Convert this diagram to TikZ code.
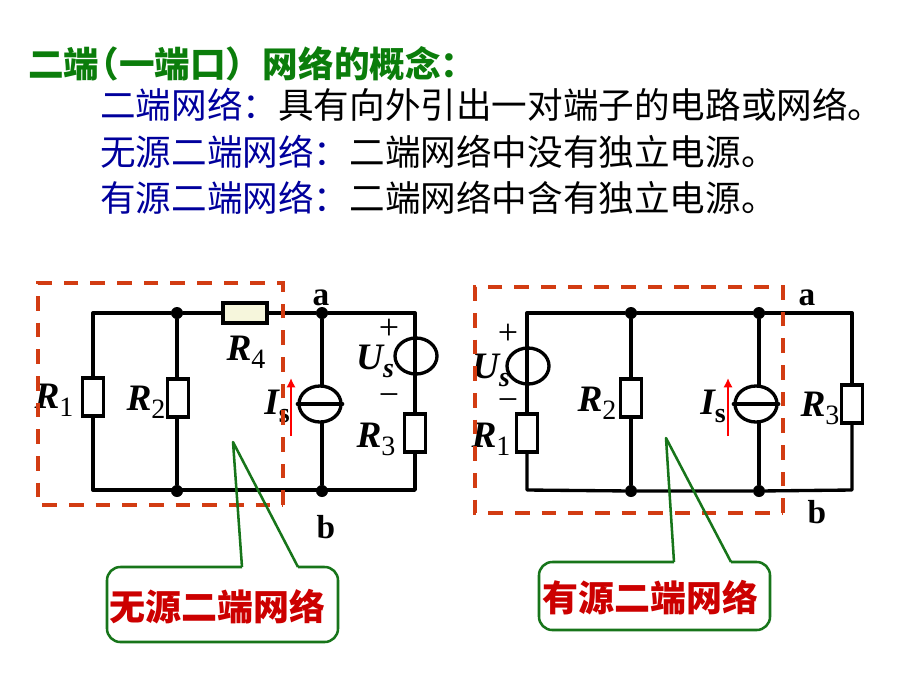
\documentclass[tikz,border=0pt]{standalone}
\usepackage{fontspec}
\setmainfont{Liberation Serif}
\newfontfamily\cjk{Noto Sans CJK SC}
\usetikzlibrary{shapes.geometric,arrows.meta}
\definecolor{TitleGreen}{HTML}{0B7D0B}
\definecolor{TermBlue}{HTML}{00009C}
\definecolor{BoxRed}{HTML}{D23C12}
\definecolor{NoteGreen}{HTML}{17751A}
\definecolor{NoteRed}{HTML}{CC0000}
\definecolor{FillR}{HTML}{F6F6DC}
\newcommand{\Sub}[2]{{\fontsize{28}{28}\selectfont\bfseries\itshape #1}\raisebox{-6pt}{\fontsize{21}{21}\selectfont #2}}
\newcommand{\SubB}[2]{{\fontsize{28}{28}\selectfont\bfseries\itshape #1}\raisebox{-6pt}{\fontsize{21}{21}\selectfont\bfseries #2}}
\newcommand{\SubI}[2]{{\fontsize{28}{28}\selectfont\bfseries\itshape #1}\raisebox{-6pt}{\fontsize{21}{21}\selectfont\bfseries\itshape #2}}
\tikzset{%
	% Style of the text lines
	TextLine/.style={anchor=west,inner sep=0,font=\cjk\fontsize{26.7}{27}\selectfont},
	% Style of the junction
	Dot/.style={circle,fill=black,inner sep=0,minimum size=9pt},
	% Style of the wires
	Wire/.style={line width=2.5pt,line cap=round,line join=round},
	% Style of the resistors
	Resistor/.style={rectangle,draw=black,line width=2.5pt,fill=white,inner sep=0,minimum width=15.5pt,minimum height=28.5pt},
	ResistorH/.style={Resistor,fill=FillR,minimum width=33pt,minimum height=15pt},
	% Style of the sources
	Source/.style={ellipse,draw=black,line width=2.5pt,inner sep=0,minimum width=31.5pt,minimum height=27pt},
	% Style of the labels
	SymName/.style={inner sep=0},
	TermName/.style={inner sep=0,font=\fontsize{25}{25}\selectfont\bfseries},
	SignName/.style={inner sep=0,font=\fontsize{27}{27}\selectfont},
	% Style of the dashed box, arrows and notes
	DashBox/.style={draw=BoxRed,line width=2.6pt,dash pattern=on 11pt off 9pt},
	RefArrow/.style={red,line width=1.6pt,-{Latex[length=7pt,width=7pt]}},
	NoteBox/.style={draw=NoteGreen,line width=1.9pt,line join=round},
	NoteName/.style={inner sep=0,text=NoteRed,font=\cjk\fontsize{27}{27}\selectfont\bfseries},
}
\begin{document}
\begin{tikzpicture}[x=0.75pt,y=-0.75pt]
\useasboundingbox (0,0) rectangle (920,690);

%~~~~~~~~~~~~~~~~~~~~~~~~~~~~~~~~~~~~~~~~~~~~~~~~~~
% Set Text
%~~~~~~~~~~~~~~~~~~~~~~~~~~~~~~~~~~~~~~~~~~~~~~~~~~
\node[TextLine,text=TitleGreen] (T1) at (28, 64) {\bfseries 二端\hspace{-12pt}（一端口）\hspace{1pt}网络的概念：};
\node[TextLine] (T2) at (100, 105) {\textcolor{TermBlue}{二端网络：}具有向外引出一对端子的电路或网络。};
\node[TextLine] (T3) at (100, 152) {\textcolor{TermBlue}{无源二端网络：}二端网络中没有独立电源。};
\node[TextLine] (T4) at (100, 198) {\textcolor{TermBlue}{有源二端网络：}二端网络中含有独立电源。};

%~~~~~~~~~~~~~~~~~~~~~~~~~~~~~~~~~~~~~~~~~~~~~~~~~~
% Set Nodes, left circuit
%~~~~~~~~~~~~~~~~~~~~~~~~~~~~~~~~~~~~~~~~~~~~~~~~~~
\coordinate (L_TL) at (93, 313);
\coordinate (L_BL) at (93, 490);
\coordinate (L_TR) at (415, 313);
\coordinate (L_BR) at (415, 490);
\node[Dot] (L_N1) at (177, 313) {};
\node[Dot] (L_N2) at (177, 491) {};
\node[Dot] (L_A) at (322, 313) {};
\node[Dot] (L_B) at (322, 491) {};
\node[Resistor] (L_R1) at (93, 397) {};
\node[Resistor] (L_R2) at (178, 398) {};
\node[ResistorH] (L_R4) at (245, 313) {};
\node[Resistor] (L_R3) at (415, 433) {};
\node[Source] (L_Is) at (320, 404) {};
\node[Source] (L_Us) at (416, 356) {};

\node[SymName] (L_R1Name) at (54, 400) {\Sub{R}{1}};
\node[SymName] (L_R2Name) at (146, 402) {\Sub{R}{2}};
\node[SymName] (L_R4Name) at (246, 352) {\Sub{R}{4}};
\node[SymName] (L_R3Name) at (376, 439) {\Sub{R}{3}};
\node[SymName] (L_IsName) at (277, 406) {\SubB{I}{s}};
\node[SymName] (L_UsName) at (375, 361) {\SubI{U}{s}};
\node[SignName] (L_Plus) at (389, 329) {+};
\node[SignName] (L_Minus) at (389, 400) {−};
\node[TermName] (L_AName) at (321, 298) {a};
\node[TermName] (L_BName) at (326, 527) {b};
\coordinate (L_Arrow1) at (291, 436);
\coordinate (L_Arrow2) at (291, 378);

%~~~~~~~~~~~~~~~~~~~~~~~~~~~~~~~~~~~~~~~~~~~~~~~~~~
% Set Branches, left circuit
%~~~~~~~~~~~~~~~~~~~~~~~~~~~~~~~~~~~~~~~~~~~~~~~~~~
\draw[Wire] (L_R4) -- (L_N1) -- (L_TL) -- (L_R1);
\draw[Wire] (L_R1) -- (L_BL) -- (L_BR) -- (L_R3);
\draw[Wire] (L_N1) -- (L_N1 |- L_R2.north);
\draw[Wire] (L_N2) -- (L_N2 |- L_R2.south);
\draw[Wire] (L_R4) -- (L_A) -- (L_TR) -- (L_R3);
\draw[Wire] (L_A) -- (L_A |- L_Is.north);
\draw[Wire] (L_B) -- (L_B |- L_Is.south);
\draw[Wire] (L_Is.west) -- (L_Is.east);
\draw[RefArrow] (L_Arrow1) -- (L_Arrow2);
\draw[DashBox] (283, 505) -- (283, 283) -- (38, 283) -- (38, 505) -- cycle;

%~~~~~~~~~~~~~~~~~~~~~~~~~~~~~~~~~~~~~~~~~~~~~~~~~~
% Set Nodes, right circuit
%~~~~~~~~~~~~~~~~~~~~~~~~~~~~~~~~~~~~~~~~~~~~~~~~~~
\coordinate (R_TL) at (527, 313);
\coordinate (R_BL) at (527, 490);
\coordinate (R_TR) at (852, 313);
\coordinate (R_BR) at (852, 490);
\node[Dot] (R_N1) at (631, 313) {};
\node[Dot] (R_N2) at (631, 491) {};
\node[Dot] (R_A) at (759, 313) {};
\node[Dot] (R_B) at (759, 491) {};
\node[Source] (R_Us) at (528, 366) {};
\node[Resistor] (R_R1) at (527, 433) {};
\node[Resistor] (R_R2) at (631, 398) {};
\node[Resistor] (R_R3) at (852, 404) {};
\node[Source] (R_Is) at (756, 404) {};

\node[SymName] (R_R1Name) at (491, 439) {\Sub{R}{1}};
\node[SymName] (R_R2Name) at (597, 403) {\Sub{R}{2}};
\node[SymName] (R_R3Name) at (820, 408) {\Sub{R}{3}};
\node[SymName] (R_IsName) at (713, 406) {\SubB{I}{s}};
\node[SymName] (R_UsName) at (491, 370) {\SubI{U}{s}};
\node[SignName] (R_Plus) at (508, 334) {+};
\node[SignName] (R_Minus) at (508, 405) {−};
\node[TermName] (R_AName) at (807, 298) {a};
\node[TermName] (R_BName) at (817, 512) {b};
\coordinate (R_Arrow1) at (728, 436);
\coordinate (R_Arrow2) at (728, 378);

%~~~~~~~~~~~~~~~~~~~~~~~~~~~~~~~~~~~~~~~~~~~~~~~~~~
% Set Branches, right circuit
%~~~~~~~~~~~~~~~~~~~~~~~~~~~~~~~~~~~~~~~~~~~~~~~~~~
\draw[Wire] (R_R1) -- (R_TL) -- (R_N1) -- (R_A) -- (R_TR) -- (R_R3);
\draw[Wire] (R_R1) -- (R_BL) -- (R_N2) -- (R_B) -- (R_BR) -- (R_R3);
\draw[Wire] (R_N1) -- (R_R2) -- (R_N2);
\draw[Wire] (R_A) -- (R_A |- R_Is.north);
\draw[Wire] (R_B) -- (R_B |- R_Is.south);
\draw[Wire] (R_Is.west) -- (R_Is.east);
\draw[RefArrow] (R_Arrow1) -- (R_Arrow2);
\draw[DashBox] (783, 513) -- (783, 287) -- (475, 287) -- (475, 513) -- cycle;

%~~~~~~~~~~~~~~~~~~~~~~~~~~~~~~~~~~~~~~~~~~~~~~~~~~
% Set Notes
%~~~~~~~~~~~~~~~~~~~~~~~~~~~~~~~~~~~~~~~~~~~~~~~~~~
\node[NoteName] (L_Note) at (217, 607) {无源二端网络};
\node[NoteName] (R_Note) at (650, 598) {有源二端网络};
\coordinate (L_Tip) at (233, 442);
\coordinate (L_Base1) at (242, 567);
\coordinate (L_Base2) at (298, 567);
\coordinate (R_Tip) at (666, 438);
\coordinate (R_Base1) at (674, 562);
\coordinate (R_Base2) at (731, 562);
\draw[NoteBox,rounded corners=10pt] (L_Base2) -- (338, 567) -- (338, 642) -- (107, 642) -- (107, 567) -- (L_Base1);
\draw[NoteBox] (L_Base1) -- (L_Tip) -- (L_Base2);
\draw[NoteBox,rounded corners=10pt] (R_Base2) -- (770, 562) -- (770, 630) -- (539, 630) -- (539, 562) -- (R_Base1);
\draw[NoteBox] (R_Base1) -- (R_Tip) -- (R_Base2);

\end{tikzpicture}
\end{document}
